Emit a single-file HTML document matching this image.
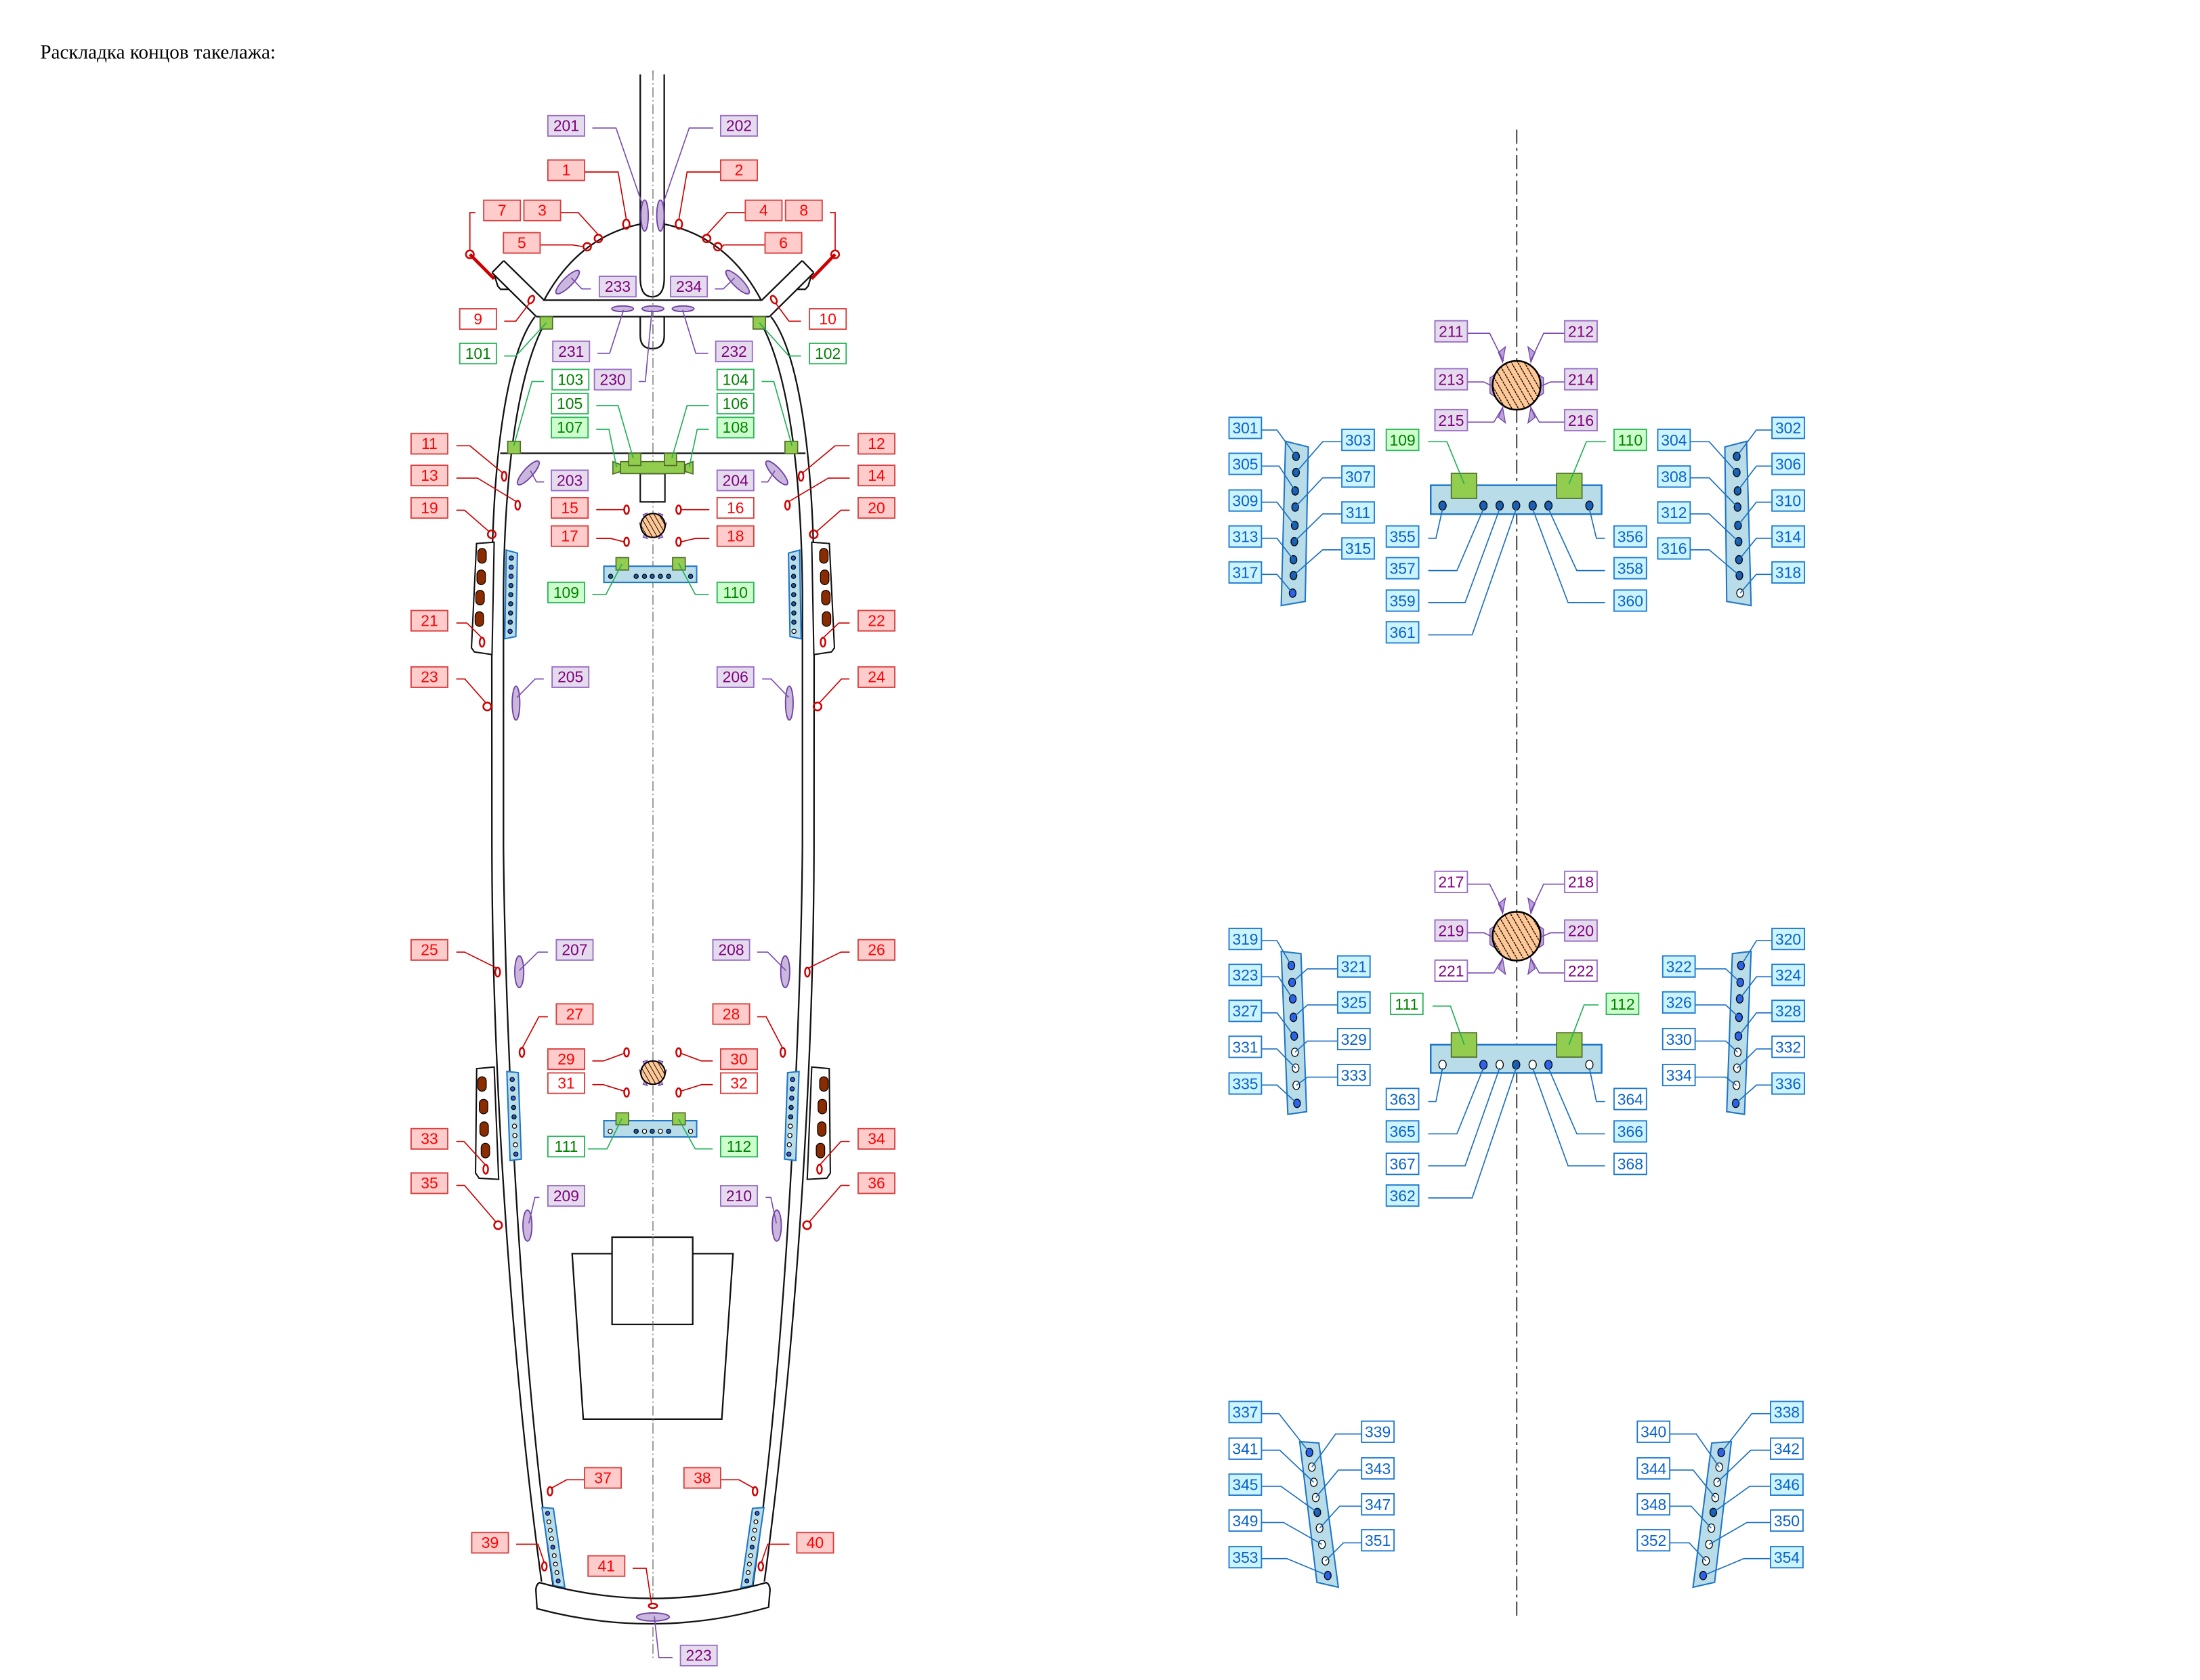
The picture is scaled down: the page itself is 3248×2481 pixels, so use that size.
<!DOCTYPE html>
<html><head><meta charset="utf-8"><style>
html,body{margin:0;padding:0;background:#fff}
svg{display:block}
text{font-family:"Liberation Sans",sans-serif;font-size:11px;text-anchor:middle}
g.L rect{width:26px;height:14.5px}
g.S rect{width:23px;height:15px}
.R rect{fill:#ffcccc;stroke:#d94040;stroke-width:.9}.R text{fill:#f00}
.Rw rect{fill:#fff;stroke:#d94040;stroke-width:.9}.Rw text{fill:#f00}
.P rect{fill:#e4dcec;stroke:#9a6dc8;stroke-width:.9}.P text{fill:#800080}
.Pw rect{fill:#fff;stroke:#9a6dc8;stroke-width:.9}.Pw text{fill:#800080}
.G rect{fill:#ccffcc;stroke:#2bb55a;stroke-width:.9}.G text{fill:#008000}
.Gw rect{fill:#fff;stroke:#2bb55a;stroke-width:.9}.Gw text{fill:#008000}
.B rect{fill:#ccf4ff;stroke:#1e7ad0;stroke-width:.9}.B text{fill:#0a62c8}
.Bw rect{fill:#fff;stroke:#1e7ad0;stroke-width:.9}.Bw text{fill:#0a62c8}
.lr polyline{fill:none;stroke:#cc0000;stroke-width:.8}
.lp polyline{fill:none;stroke:#7a4cb0;stroke-width:.8}
.lg polyline{fill:none;stroke:#1fb055;stroke-width:.8}
.lb polyline{fill:none;stroke:#1a6fc0;stroke-width:.8}
.h{fill:none;stroke:#111;stroke-width:1.1}
.ring{fill:none;stroke:#cc0000;stroke-width:1.2}
.pe{fill:#c9b8dc;stroke:#7040a8;stroke-width:.9}
.strip{fill:#b8dde8;stroke:#1f77c8;stroke-width:1}
.db{fill:#1a5fb4;stroke:#000;stroke-width:.6}
.lb2{fill:#2f63ee;stroke:#000;stroke-width:.6}
.wd{fill:#fff;stroke:#000;stroke-width:.6}
.gs{fill:#92cd50;stroke:#4e6b2a;stroke-width:.8}
.de{fill:#8b2c00;stroke:#000;stroke-width:.6}
.pm{fill:#b9a2d8;stroke:#7040a8;stroke-width:.6}
</style></head><body>
<svg width="3248" height="2481" viewBox="0 0 1560 1191.6" preserveAspectRatio="none" xmlns="http://www.w3.org/2000/svg">
<defs>
<pattern id="hat" width="3" height="3" patternUnits="userSpaceOnUse" patternTransform="rotate(-30)">
<rect width="3" height="3" fill="#ffc896"/><line x1="0" y1="0" x2="0" y2="3" stroke="#000" stroke-width="0.9"/></pattern>
<pattern id="hat2" width="4" height="4" patternUnits="userSpaceOnUse" patternTransform="rotate(-30)">
<rect width="4" height="4" fill="#ffc896"/><line x1="0" y1="0" x2="0" y2="4" stroke="#000" stroke-width="1.3" stroke-dasharray="1.5,0.6"/></pattern>
</defs>
<rect width="1560" height="1191.6" fill="#fff"/>
<text x="28.5" y="41.6" style="font-family:'Liberation Serif',serif;font-size:14px;text-anchor:start" textLength="167">Раскладка концов такелажа:</text>

<line x1="463" y1="50" x2="463" y2="1176" stroke="#666" stroke-width=".6" stroke-dasharray="7,2,1,2"/>

<g id="hullL">
<path class="h" d="M379.3,224.6 C360,250 349,320 348.7,420 L348.8,600 C349,760 362,960 384,1121.8"/>
<path class="h" d="M389,224.6 C370,255 358,320 357,420 L357,600 C358,720 368,960 392.2,1124.6"/>
<path class="h" d="M348.9,193.4 L380.4,224.6 M357.2,184.9 L385.8,212.9 M357.2,184.9 L348.9,193.4 M350.5,195 L353,203 L355,205.2 L361,205.2"/>
<polygon points="337.9,385.5 350.4,384.6 348.9,464.3 336.4,462.4 334.3,459.5" fill="#fff" stroke="#111" stroke-width="1"/>
<polygon points="338,758 350.4,756.8 353.6,836.5 339.7,835.7 337.2,832" fill="#fff" stroke="#111" stroke-width="1"/>
<rect class="de" x="338.8" y="389" width="6" height="10.5" rx="3"/>
<rect class="de" x="338.2" y="404.3" width="6" height="10.4" rx="3"/>
<rect class="de" x="337.4" y="418.7" width="6" height="10.4" rx="3"/>
<rect class="de" x="336.9" y="433.9" width="6" height="10.4" rx="3"/>
<rect class="de" x="338.8" y="763.7" width="6" height="10.3" rx="3"/>
<rect class="de" x="339.9" y="779.7" width="6" height="10.3" rx="3"/>
<rect class="de" x="340.3" y="795.7" width="6" height="10.3" rx="3"/>
<rect class="de" x="341.2" y="810.9" width="6" height="10.4" rx="3"/>
<polygon class="strip" points="359,390.2 366.9,392.3 365.8,451.5 357.9,453.1"/>
<polygon class="strip" points="359.4,760 367.5,760.8 369.7,822.1 361.7,823.2"/>
<polygon class="strip" points="384.3,1069.2 392.4,1069.9 400.5,1126 392.6,1124.7"/>
</g>
<use href="#hullL" transform="translate(926,0) scale(-1,1)"/>
<path d="M382.5,1122.5 Q463,1145 543.5,1122.5 Q546,1124 546,1128 L545,1140 Q463,1163 380.8,1141 L380,1128 Q380,1124 382.5,1122.5 Z" fill="#fff" stroke="#111" stroke-width="1.1"/>
<line x1="380.4" y1="224.6" x2="545.6" y2="224.6" stroke="#111" stroke-width="1.1"/>
<line x1="354.7" y1="321.5" x2="571.2" y2="321.5" stroke="#111" stroke-width="1.1"/>
<path d="M385.8,212.9 Q410,168 454,159 L471,159 Q516,168 539.7,212.9 Z" fill="#fff" stroke="#111" stroke-width="1.1"/>
<path d="M454,52.8 L454,197 Q454,210.5 462.5,210.5 Q471,210.5 471,197 L471,52.8" fill="#fff" stroke="#111" stroke-width="1.1"/>
<path d="M454,224.6 L454,238 Q454,247.3 462.5,247.3 Q471,247.3 471,238 L471,224.6" fill="none" stroke="#111" stroke-width="1.1"/>
<line x1="463" y1="50" x2="463" y2="250" stroke="#666" stroke-width=".6" stroke-dasharray="7,2,1,2"/>
<polygon points="405.7,889.2 519.8,889.2 511.8,1006.6 413.6,1006.6" fill="#fff" stroke="#111" stroke-width="1.1"/>
<rect x="434" y="877.5" width="57.2" height="61.9" fill="#fff" stroke="#111" stroke-width="1.1"/>
<line x1="463" y1="877" x2="463" y2="1010" stroke="#666" stroke-width=".6" stroke-dasharray="7,2,1,2"/>

<rect x="454" y="335.9" width="17.5" height="20.1" fill="#fff" stroke="#111" stroke-width="1"/>
<rect class="gs" x="440" y="327.4" width="45.4" height="8.5"/>
<rect class="gs" x="445.8" y="321.5" width="8.6" height="8.7"/>
<rect class="gs" x="471.1" y="321.5" width="8.6" height="8.7"/>
<polygon class="gs" points="434.6,327.4 440,329.5 440,334.5 434.6,336.2"/>
<polygon class="gs" points="491.4,327.4 486,329.5 486,334.5 491.4,336.2"/>
<rect class="gs" x="360" y="313" width="9" height="8.8"/>
<rect class="gs" x="556.6" y="313" width="9" height="8.8"/>
<rect class="gs" x="383" y="224.6" width="8.8" height="8.8"/>
<rect class="gs" x="534" y="224.6" width="8.8" height="8.8"/>

<g>
<polygon class="pm" points="456,365 459,364 457.5,368"/><polygon class="pm" points="470,365 467,364 468.5,368"/>
<polygon class="pm" points="453.5,371 454.5,375 455.5,373"/><polygon class="pm" points="472.5,371 471.5,375 470.5,373"/>
<polygon class="pm" points="456,381 459,382 457.5,378"/><polygon class="pm" points="470,381 467,382 468.5,378"/>
<ellipse cx="463" cy="372.7" rx="8.6" ry="8.5" fill="url(#hat)" stroke="#000" stroke-width="1"/>
<polygon class="pm" points="456,753 459,752 457.5,756"/><polygon class="pm" points="470,753 467,752 468.5,756"/>
<polygon class="pm" points="453.5,759 454.5,763 455.5,761"/><polygon class="pm" points="472.5,759 471.5,763 470.5,761"/>
<polygon class="pm" points="456,769 459,770 457.5,766"/><polygon class="pm" points="470,769 467,770 468.5,766"/>
<ellipse cx="463" cy="760.8" rx="8.6" ry="8.3" fill="url(#hat)" stroke="#000" stroke-width="1"/>
</g>
<rect x="428.2" y="401.6" width="65.8" height="11.5" fill="#b8dde8" stroke="#1f77c8" stroke-width="1"/>
<rect class="gs" x="436.8" y="395.5" width="9" height="8.8"/><rect class="gs" x="476.9" y="395.5" width="9" height="8.8"/>
<g class="db"><circle cx="433" cy="408.8" r="1.5"/><circle cx="451.1" cy="408.8" r="1.5"/><circle cx="457" cy="408.8" r="1.5"/><circle cx="462.5" cy="408.8" r="1.5"/><circle cx="468.3" cy="408.8" r="1.5"/><circle cx="474.1" cy="408.8" r="1.5"/><circle cx="489.7" cy="408.8" r="1.5"/></g>
<rect x="428.2" y="794.9" width="65.8" height="11.5" fill="#b8dde8" stroke="#1f77c8" stroke-width="1"/>
<rect class="gs" x="436.8" y="789.3" width="9" height="8.5"/><rect class="gs" x="476.9" y="789.3" width="9" height="8.5"/>
<circle class="wd" cx="432.7" cy="802.4" r="1.5"/><circle class="db" cx="451.1" cy="802.4" r="1.5"/><circle class="wd" cx="457" cy="802.4" r="1.5"/><circle class="db" cx="462.5" cy="802.4" r="1.5"/><circle class="wd" cx="468.3" cy="802.4" r="1.5"/><circle class="db" cx="474.1" cy="802.4" r="1.5"/><circle class="wd" cx="489.7" cy="802.4" r="1.5"/>

<g>
<circle class="lb2" cx="362.6" cy="395.8" r="1.5"/><circle class="lb2" cx="362.5" cy="402.3" r="1.5"/><circle class="lb2" cx="362.4" cy="408.8" r="1.5"/><circle class="db" cx="362.3" cy="415.3" r="1.5"/><circle class="db" cx="362.2" cy="421.8" r="1.5"/><circle class="db" cx="362.1" cy="428.3" r="1.5"/><circle class="db" cx="362" cy="434.8" r="1.5"/><circle class="db" cx="361.8" cy="441.3" r="1.5"/><circle class="lb2" cx="361.7" cy="447.8" r="1.5"/>
<circle class="lb2" cx="562.6" cy="395.8" r="1.5"/><circle class="db" cx="562.6" cy="402.3" r="1.5"/><circle class="db" cx="562.7" cy="408.8" r="1.5"/><circle class="db" cx="562.7" cy="415.3" r="1.5"/><circle class="db" cx="562.8" cy="421.8" r="1.5"/><circle class="db" cx="562.8" cy="428.3" r="1.5"/><circle class="db" cx="562.9" cy="434.8" r="1.5"/><circle class="db" cx="562.9" cy="441.3" r="1.5"/><circle class="wd" cx="563" cy="447.8" r="1.5"/>
<circle class="lb2" cx="363.2" cy="765.7" r="1.5"/><circle class="lb2" cx="363.5" cy="772.3" r="1.5"/><circle class="lb2" cx="363.9" cy="778.9" r="1.5"/><circle class="db" cx="364.2" cy="785.5" r="1.5"/><circle class="db" cx="364.5" cy="792.2" r="1.5"/><circle class="wd" cx="364.8" cy="798.8" r="1.5"/><circle class="wd" cx="365.1" cy="805.4" r="1.5"/><circle class="wd" cx="365.5" cy="812" r="1.5"/><circle class="lb2" cx="365.8" cy="818.6" r="1.5"/>
<circle class="lb2" cx="562" cy="765.7" r="1.5"/><circle class="lb2" cx="561.7" cy="772.3" r="1.5"/><circle class="lb2" cx="561.4" cy="778.9" r="1.5"/><circle class="db" cx="561" cy="785.5" r="1.5"/><circle class="db" cx="560.7" cy="792.2" r="1.5"/><circle class="wd" cx="560.4" cy="798.8" r="1.5"/><circle class="wd" cx="560.1" cy="805.4" r="1.5"/><circle class="wd" cx="559.7" cy="812" r="1.5"/><circle class="lb2" cx="559.4" cy="818.6" r="1.5"/>
<circle class="lb2" cx="388.3" cy="1073.4" r="1.4"/><circle class="wd" cx="389.2" cy="1079.4" r="1.4"/><circle class="wd" cx="390.2" cy="1085.4" r="1.4"/><circle class="wd" cx="391.1" cy="1091.4" r="1.4"/><circle class="lb2" cx="392" cy="1097.4" r="1.4"/><circle class="wd" cx="393" cy="1103.4" r="1.4"/><circle class="wd" cx="393.9" cy="1109.4" r="1.4"/><circle class="wd" cx="394.9" cy="1115.4" r="1.4"/><circle class="lb2" cx="395.8" cy="1121.4" r="1.4"/>
<circle class="lb2" cx="536.9" cy="1073.4" r="1.4"/><circle class="wd" cx="536" cy="1079.4" r="1.4"/><circle class="wd" cx="535.1" cy="1085.4" r="1.4"/><circle class="wd" cx="534.2" cy="1091.4" r="1.4"/><circle class="lb2" cx="533.3" cy="1097.4" r="1.4"/><circle class="wd" cx="532.3" cy="1103.4" r="1.4"/><circle class="wd" cx="531.4" cy="1109.4" r="1.4"/><circle class="wd" cx="530.5" cy="1115.4" r="1.4"/><circle class="lb2" cx="529.6" cy="1121.4" r="1.4"/>
</g>

<ellipse class="pe" cx="457.1" cy="152.9" rx="2.6" ry="11"/>
<ellipse class="pe" cx="468.3" cy="152.9" rx="2.6" ry="11"/>
<ellipse class="pe" cx="402.5" cy="200.1" rx="11.3" ry="3.3" transform="rotate(-45 402.5 200.1)"/>
<ellipse class="pe" cx="523" cy="200.1" rx="11.3" ry="3.3" transform="rotate(45 523 200.1)"/>
<ellipse class="pe" cx="441.5" cy="219" rx="7.7" ry="2"/>
<ellipse class="pe" cx="463" cy="219" rx="7.7" ry="2"/>
<ellipse class="pe" cx="484.4" cy="219" rx="7.7" ry="2"/>
<ellipse class="pe" cx="374.6" cy="335.4" rx="11" ry="3.3" transform="rotate(-48 374.6 335.4)"/>
<ellipse class="pe" cx="550.8" cy="335.4" rx="11" ry="3.3" transform="rotate(48 550.8 335.4)"/>
<ellipse class="pe" cx="365.9" cy="498.7" rx="2.7" ry="12"/>
<ellipse class="pe" cx="559.7" cy="498.7" rx="2.7" ry="12"/>
<ellipse class="pe" cx="368.2" cy="689.2" rx="3.2" ry="11.2"/>
<ellipse class="pe" cx="556.8" cy="689.2" rx="3.2" ry="11.2"/>
<ellipse class="pe" cx="374" cy="869.3" rx="3.2" ry="11"/>
<ellipse class="pe" cx="550.8" cy="869.3" rx="3.2" ry="11"/>
<ellipse class="pe" cx="463" cy="1146.9" rx="11.6" ry="2.9"/>

<line x1="333.2" y1="180.4" x2="350.4" y2="197.7" stroke="#cc0000" stroke-width="2.3"/>
<line x1="592.2" y1="180.4" x2="575.5" y2="197.7" stroke="#cc0000" stroke-width="2.3"/>
<g class="ring">
<circle cx="333.2" cy="180.4" r="2.8"/><circle cx="592.2" cy="180.4" r="2.8"/>
<circle cx="424.3" cy="169.2" r="2.7"/><circle cx="501.1" cy="169.2" r="2.7"/>
<circle cx="416.4" cy="175" r="2.7"/><circle cx="509" cy="175" r="2.7"/>
<ellipse cx="444.1" cy="159" rx="2.3" ry="3.3"/><ellipse cx="481.4" cy="159" rx="2.3" ry="3.3"/>
<ellipse cx="376.7" cy="212.5" rx="1.8" ry="3" transform="rotate(30 376.7 212.5)"/><ellipse cx="548.7" cy="212.5" rx="1.8" ry="3" transform="rotate(-30 548.7 212.5)"/>
<ellipse cx="357.5" cy="337.8" rx="1.7" ry="3.2"/><ellipse cx="568" cy="337.8" rx="1.7" ry="3.2"/>
<ellipse cx="367.1" cy="358.3" rx="1.7" ry="3.2"/><ellipse cx="558.4" cy="358.3" rx="1.7" ry="3.2"/>
<circle cx="348.7" cy="379" r="2.8"/><circle cx="577" cy="379" r="2.8"/>
<ellipse cx="444.3" cy="361.5" rx="1.7" ry="3"/><ellipse cx="481.2" cy="361.5" rx="1.7" ry="3"/>
<ellipse cx="444.3" cy="384.3" rx="1.7" ry="3"/><ellipse cx="481.2" cy="384.3" rx="1.7" ry="3"/>
<ellipse cx="341.8" cy="455.5" rx="1.7" ry="3.2"/><ellipse cx="583.6" cy="455.5" rx="1.7" ry="3.2"/>
<circle cx="345.5" cy="501.1" r="2.8"/><circle cx="579.7" cy="501.1" r="2.8"/>
<ellipse cx="352.9" cy="689.5" rx="1.7" ry="3.2"/><ellipse cx="572.5" cy="689.5" rx="1.7" ry="3.2"/>
<ellipse cx="370.1" cy="746.4" rx="1.7" ry="3.2"/><ellipse cx="555.1" cy="746.4" rx="1.7" ry="3.2"/>
<ellipse cx="444.3" cy="746.4" rx="1.7" ry="3"/><ellipse cx="481.2" cy="746.4" rx="1.7" ry="3"/>
<ellipse cx="444.3" cy="774.9" rx="1.7" ry="3"/><ellipse cx="481.2" cy="774.9" rx="1.7" ry="3"/>
<ellipse cx="344.4" cy="829.3" rx="1.7" ry="3.2"/><ellipse cx="581.1" cy="829.3" rx="1.7" ry="3.2"/>
<circle cx="353.2" cy="869" r="2.8"/><circle cx="572.3" cy="869" r="2.8"/>
<ellipse cx="390" cy="1057.7" rx="1.7" ry="3"/><ellipse cx="535.4" cy="1057.7" rx="1.7" ry="3"/>
<ellipse cx="386" cy="1111" rx="1.7" ry="3"/><ellipse cx="539.5" cy="1111" rx="1.7" ry="3"/>
<ellipse cx="463" cy="1139" rx="3" ry="1.6"/>
</g>

<g class="lr">
<polyline points="414.3,122 438.3,122 444.1,155.5"/><polyline points="511,122 487.2,122 481.4,155.5"/>
<polyline points="397.1,150.8 410,150.8 424.3,166.5"/><polyline points="528.3,150.8 515.5,150.8 501.1,166.5"/>
<polyline points="383,173.7 406.1,173.7 413.6,175"/><polyline points="542.5,173.7 513.3,173.7 511.8,175"/>
<polyline points="337.1,150.8 333.2,150.8 333.2,177.4"/><polyline points="588.4,150.8 592.2,150.8 592.2,177.4"/>
<polyline points="357.5,227.8 365.8,227.8 375.5,215"/><polyline points="568,227.8 559.4,227.8 550,215"/>
<polyline points="323.6,316.2 333.2,316.2 356.5,335.5"/><polyline points="602.5,316.2 592.2,316.2 569,335.5"/>
<polyline points="323.6,339.1 338.6,339.1 366.5,356"/><polyline points="602.5,339.1 587.3,339.1 559,356"/>
<polyline points="323.6,361.9 329.4,361.9 346.8,377"/><polyline points="602.5,361.9 596.3,361.9 579,377"/>
<polyline points="422.8,361.5 442.5,361.5"/><polyline points="503,361.5 483,361.5"/>
<polyline points="422.8,381.9 433,381.9 442.5,384.3"/><polyline points="503,381.9 493,381.9 483,384.3"/>
<polyline points="323.6,441.9 331.1,441.9 341.8,452.5"/><polyline points="602.5,441.9 594.8,441.9 583.6,452.5"/>
<polyline points="323.5,481.6 329.6,481.6 344.5,498.5"/><polyline points="602.3,481.6 596.7,481.6 581,498.5"/>
<polyline points="323.6,675.3 329.4,675.3 352,686.5"/><polyline points="602.5,675.3 596.3,675.3 573.5,686.5"/>
<polyline points="388.5,721.2 382.1,721.2 370.5,743"/><polyline points="536.9,721.2 543.3,721.2 554.7,743"/>
<polyline points="420,752.5 428,752.5 443,747"/><polyline points="505.4,752.5 497.3,752.5 482.5,747"/>
<polyline points="420,769.3 427.6,769.3 443,774"/><polyline points="505.4,769.3 497.5,769.3 482.5,774"/>
<polyline points="323.6,809.6 329,809.6 344,826"/><polyline points="602.5,809.6 596.3,809.6 581.5,826"/>
<polyline points="323.6,840.8 329.4,840.8 351.5,866.5"/><polyline points="602.5,840.8 596.3,840.8 574,866.5"/>
<polyline points="414,1049.6 401.8,1049.6 391,1055.5"/><polyline points="511.5,1049.6 524,1049.6 534.5,1055.5"/>
<polyline points="366,1095.3 381.5,1095.3 385.8,1108"/><polyline points="559.8,1095.3 544.4,1095.3 540,1108"/>
<polyline points="448.6,1112.4 458.2,1112.4 462,1137.5"/>
</g>
<g class="lp">
<polyline points="420,90.8 436.8,90.8 455.5,145"/><polyline points="505.8,90.8 488.7,90.8 470,145"/>
<polyline points="419,204.9 412.6,204.9 405,197"/><polyline points="506.9,204.9 512.9,204.9 521,197"/>
<polyline points="423.7,250.6 432.3,250.6 442.1,220"/><polyline points="502.2,250.6 493.4,250.6 484,220"/>
<polyline points="452.9,270.6 457.6,270.6 462.3,220"/>
<polyline points="385.8,341.8 380.4,341.8 376.1,333.8"/><polyline points="539.7,341.8 544.4,341.8 549.5,333.8"/>
<polyline points="385.6,481.6 379.5,481.6 366.6,494.7"/><polyline points="540.4,481.6 546.8,481.6 559.3,494.7"/>
<polyline points="388.5,675.3 381.5,675.3 368.2,688.4"/><polyline points="536.9,675.3 544.4,675.3 557.3,688.4"/>
<polyline points="382.5,849.3 379.3,849.3 375,867.7"/><polyline points="542.9,849.3 546.6,849.3 550.5,867.7"/>
<polyline points="476.9,1175.7 467.2,1175.7 464,1146.5"/>
</g>
<g class="lg">
<polyline points="357.5,252.5 365.8,252.5 387.3,229"/><polyline points="568,252.5 559.4,252.5 538.5,229"/>
<polyline points="385.8,270.6 377.2,270.6 364.3,316.2"/><polyline points="540.1,270.6 548.7,270.6 561.6,316.2"/>
<polyline points="422.8,287.7 438.3,287.7 449,325"/><polyline points="502.6,287.7 487.2,287.7 476.4,325"/>
<polyline points="422.8,304.5 431.8,304.5 437.2,331.4"/><polyline points="502.6,304.5 494.4,304.5 488.7,331.4"/>
<polyline points="420,421.6 429.7,421.6 441,400"/><polyline points="502.6,421.6 493,421.6 481.2,399.5"/>
<polyline points="416.8,814.9 430.4,814.9 441,793.3"/><polyline points="505.4,814.9 493,814.9 481.2,793.8"/>
</g>

<g class="L R" transform="translate(388.5,113.5)"><rect/><text x="13" y="11">1</text></g>
<g class="L R" transform="translate(511,113.5)"><rect/><text x="13" y="11">2</text></g>
<g class="L R" transform="translate(343,142)"><rect/><text x="13" y="11">7</text></g>
<g class="L R" transform="translate(371.5,142)"><rect/><text x="13" y="11">3</text></g>
<g class="L R" transform="translate(528.5,142)"><rect/><text x="13" y="11">4</text></g>
<g class="L R" transform="translate(557,142)"><rect/><text x="13" y="11">8</text></g>
<g class="L R" transform="translate(357,165)"><rect/><text x="13" y="11">5</text></g>
<g class="L R" transform="translate(542.5,165)"><rect/><text x="13" y="11">6</text></g>
<g class="L Rw" transform="translate(326,219)"><rect/><text x="13" y="11">9</text></g>
<g class="L Rw" transform="translate(574,219)"><rect/><text x="13" y="11">10</text></g>
<g class="L R" transform="translate(291.5,307.5)"><rect/><text x="13" y="11">11</text></g>
<g class="L R" transform="translate(608.5,307.5)"><rect/><text x="13" y="11">12</text></g>
<g class="L R" transform="translate(291.5,330)"><rect/><text x="13" y="11">13</text></g>
<g class="L R" transform="translate(608.5,330)"><rect/><text x="13" y="11">14</text></g>
<g class="L R" transform="translate(291.5,353)"><rect/><text x="13" y="11">19</text></g>
<g class="L R" transform="translate(608.5,353)"><rect/><text x="13" y="11">20</text></g>
<g class="L R" transform="translate(391,353)"><rect/><text x="13" y="11">15</text></g>
<g class="L Rw" transform="translate(508.5,353)"><rect/><text x="13" y="11">16</text></g>
<g class="L R" transform="translate(391,373)"><rect/><text x="13" y="11">17</text></g>
<g class="L R" transform="translate(508.5,373)"><rect/><text x="13" y="11">18</text></g>
<g class="L R" transform="translate(291.5,433)"><rect/><text x="13" y="11">21</text></g>
<g class="L R" transform="translate(608.5,433)"><rect/><text x="13" y="11">22</text></g>
<g class="L R" transform="translate(291.5,473)"><rect/><text x="13" y="11">23</text></g>
<g class="L R" transform="translate(608.5,473)"><rect/><text x="13" y="11">24</text></g>
<g class="L R" transform="translate(291.5,666.5)"><rect/><text x="13" y="11">25</text></g>
<g class="L R" transform="translate(608.5,666.5)"><rect/><text x="13" y="11">26</text></g>
<g class="L R" transform="translate(394.5,712)"><rect/><text x="13" y="11">27</text></g>
<g class="L R" transform="translate(505.5,712)"><rect/><text x="13" y="11">28</text></g>
<g class="L R" transform="translate(388.5,744)"><rect/><text x="13" y="11">29</text></g>
<g class="L R" transform="translate(511,744)"><rect/><text x="13" y="11">30</text></g>
<g class="L Rw" transform="translate(388.5,761)"><rect/><text x="13" y="11">31</text></g>
<g class="L Rw" transform="translate(511,761)"><rect/><text x="13" y="11">32</text></g>
<g class="L R" transform="translate(291.5,800.5)"><rect/><text x="13" y="11">33</text></g>
<g class="L R" transform="translate(608.5,800.5)"><rect/><text x="13" y="11">34</text></g>
<g class="L R" transform="translate(291.5,832)"><rect/><text x="13" y="11">35</text></g>
<g class="L R" transform="translate(608.5,832)"><rect/><text x="13" y="11">36</text></g>
<g class="L R" transform="translate(414.5,1041)"><rect/><text x="13" y="11">37</text></g>
<g class="L R" transform="translate(485,1041)"><rect/><text x="13" y="11">38</text></g>
<g class="L R" transform="translate(334.5,1087)"><rect/><text x="13" y="11">39</text></g>
<g class="L R" transform="translate(565,1087)"><rect/><text x="13" y="11">40</text></g>
<g class="L R" transform="translate(417,1103.5)"><rect/><text x="13" y="11">41</text></g>

<g class="L P" transform="translate(388.5,82)"><rect/><text x="13" y="11">201</text></g>
<g class="L P" transform="translate(511,82)"><rect/><text x="13" y="11">202</text></g>
<g class="L P" transform="translate(425,196)"><rect/><text x="13" y="11">233</text></g>
<g class="L P" transform="translate(475.5,196)"><rect/><text x="13" y="11">234</text></g>
<g class="L P" transform="translate(392,242)"><rect/><text x="13" y="11">231</text></g>
<g class="L P" transform="translate(507.5,242)"><rect/><text x="13" y="11">232</text></g>
<g class="L P" transform="translate(421.5,262)"><rect/><text x="13" y="11">230</text></g>
<g class="L P" transform="translate(391,333.5)"><rect/><text x="13" y="11">203</text></g>
<g class="L P" transform="translate(508.5,333.5)"><rect/><text x="13" y="11">204</text></g>
<g class="L P" transform="translate(391.5,473)"><rect/><text x="13" y="11">205</text></g>
<g class="L P" transform="translate(508.5,473)"><rect/><text x="13" y="11">206</text></g>
<g class="L P" transform="translate(394.5,666.5)"><rect/><text x="13" y="11">207</text></g>
<g class="L P" transform="translate(505.5,666.5)"><rect/><text x="13" y="11">208</text></g>
<g class="L P" transform="translate(388.5,841)"><rect/><text x="13" y="11">209</text></g>
<g class="L P" transform="translate(511,841)"><rect/><text x="13" y="11">210</text></g>
<g class="L P" transform="translate(482.5,1167)"><rect/><text x="13" y="11">223</text></g>

<g class="L Gw" transform="translate(326,243.5)"><rect/><text x="13" y="11">101</text></g>
<g class="L Gw" transform="translate(574,243.5)"><rect/><text x="13" y="11">102</text></g>
<g class="L Gw" transform="translate(391.5,262)"><rect/><text x="13" y="11">103</text></g>
<g class="L Gw" transform="translate(508.5,262)"><rect/><text x="13" y="11">104</text></g>
<g class="L Gw" transform="translate(391,279)"><rect/><text x="13" y="11">105</text></g>
<g class="L Gw" transform="translate(508.5,279)"><rect/><text x="13" y="11">106</text></g>
<g class="L G" transform="translate(391,296)"><rect/><text x="13" y="11">107</text></g>
<g class="L G" transform="translate(508.5,296)"><rect/><text x="13" y="11">108</text></g>
<g class="L G" transform="translate(388.5,413)"><rect/><text x="13" y="11">109</text></g>
<g class="L G" transform="translate(508.5,413)"><rect/><text x="13" y="11">110</text></g>
<g class="L Gw" transform="translate(388.5,806)"><rect/><text x="13" y="11">111</text></g>
<g class="L G" transform="translate(511,806)"><rect/><text x="13" y="11">112</text></g>

<!-- ================= RIGHT PANEL ================= -->
<g transform="translate(-5.5,0)">
<line x1="1081" y1="92" x2="1081" y2="1148" stroke="#333" stroke-width=".9" stroke-dasharray="10,3,2,3"/>
<g>
<polygon class="pm" points="1068,250 1073,246 1071,257"/><polygon class="pm" points="1094,250 1089,246 1091,257"/>
<polygon class="pm" points="1062,268 1065,266 1065,281 1062,279"/><polygon class="pm" points="1100,268 1097,266 1097,281 1100,279"/>
<polygon class="pm" points="1068,296 1073,300 1071,289"/><polygon class="pm" points="1094,296 1089,300 1091,289"/>
<ellipse cx="1080.9" cy="273.3" rx="17" ry="17.3" fill="url(#hat2)" stroke="#000" stroke-width="1.2"/>
<polygon class="pm" points="1068,641 1073,637 1071,648"/><polygon class="pm" points="1094,641 1089,637 1091,648"/>
<polygon class="pm" points="1062,659 1065,657 1065,672 1062,670"/><polygon class="pm" points="1100,659 1097,657 1097,672 1100,670"/>
<polygon class="pm" points="1068,687 1073,691 1071,680"/><polygon class="pm" points="1094,687 1089,691 1091,680"/>
<ellipse cx="1080.9" cy="664" rx="17" ry="17.3" fill="url(#hat2)" stroke="#000" stroke-width="1.2"/>
</g>
<rect x="1020" y="344.2" width="121.2" height="20.5" fill="#b8dde8" stroke="#1f77c8" stroke-width="1.2"/>
<rect class="gs" x="1034.6" y="335.7" width="18" height="17.8"/><rect class="gs" x="1109.3" y="335.7" width="18" height="17.8"/>
<g class="db"><ellipse cx="1028.4" cy="358.6" rx="2.6" ry="3.2"/><ellipse cx="1057.4" cy="358.6" rx="2.6" ry="3.2"/><ellipse cx="1068.9" cy="358.6" rx="2.6" ry="3.2"/><ellipse cx="1080.6" cy="358.6" rx="2.6" ry="3.2"/><ellipse cx="1092.3" cy="358.6" rx="2.6" ry="3.2"/><ellipse cx="1103.5" cy="358.6" rx="2.6" ry="3.2"/><ellipse cx="1132.5" cy="358.6" rx="2.6" ry="3.2"/></g>
<rect x="1020" y="741" width="121.2" height="20" fill="#b8dde8" stroke="#1f77c8" stroke-width="1.2"/>
<rect class="gs" x="1034.6" y="732.5" width="18" height="17.3"/><rect class="gs" x="1109.3" y="732.5" width="18" height="17.3"/>
<ellipse class="wd" cx="1028.4" cy="755.2" rx="2.6" ry="3.2"/><ellipse class="lb2" cx="1057.4" cy="755.2" rx="2.6" ry="3.2"/><ellipse class="wd" cx="1068.9" cy="755.2" rx="2.6" ry="3.2"/><ellipse class="db" cx="1080.6" cy="755.2" rx="2.6" ry="3.2"/><ellipse class="wd" cx="1092.3" cy="755.2" rx="2.6" ry="3.2"/><ellipse class="lb2" cx="1103.5" cy="755.2" rx="2.6" ry="3.2"/><ellipse class="wd" cx="1132.5" cy="755.2" rx="2.6" ry="3.2"/>

<polygon class="strip" points="917.1,313 933.2,317 931,426.6 914,429.5"/>
<polygon class="strip" points="1228.6,317 1244,313 1247.2,429.5 1229.9,426.6"/>
<polygon class="strip" points="914,674.8 928,676.4 932,788.5 918.7,790.4"/>
<polygon class="strip" points="1233.9,676.4 1247.2,674.8 1242.5,790.4 1229.9,788.5"/>
<polygon class="strip" points="927.1,1022.5 940.7,1023.5 954.5,1125.8 939.3,1122.3"/>
<polygon class="strip" points="1219.3,1023.5 1233.2,1022.5 1221.3,1122.3 1206,1125.8"/>
<g>
<ellipse class="db" cx="924.5" cy="323.7" rx="2.4" ry="3"/><ellipse class="db" cx="924.5" cy="335.1" rx="2.4" ry="3"/><ellipse class="db" cx="923.9" cy="348.2" rx="2.4" ry="3"/><ellipse class="db" cx="923.9" cy="359.7" rx="2.4" ry="3"/><ellipse class="db" cx="923.6" cy="372.7" rx="2.4" ry="3"/><ellipse class="db" cx="923.3" cy="384.2" rx="2.4" ry="3"/><ellipse class="db" cx="922.7" cy="397" rx="2.4" ry="3"/><ellipse class="db" cx="922.7" cy="408.2" rx="2.4" ry="3"/><ellipse class="lb2" cx="922.1" cy="420.7" rx="2.4" ry="3"/>
<ellipse class="db" cx="1237" cy="323.7" rx="2.4" ry="3"/><ellipse class="db" cx="1237" cy="335.1" rx="2.4" ry="3"/><ellipse class="db" cx="1237.6" cy="348.2" rx="2.4" ry="3"/><ellipse class="db" cx="1237.6" cy="359.7" rx="2.4" ry="3"/><ellipse class="db" cx="1237.9" cy="372.7" rx="2.4" ry="3"/><ellipse class="db" cx="1238.3" cy="384.2" rx="2.4" ry="3"/><ellipse class="db" cx="1238.6" cy="397" rx="2.4" ry="3"/><ellipse class="db" cx="1238.9" cy="408.2" rx="2.4" ry="3"/><ellipse class="wd" cx="1239.4" cy="420.7" rx="2.4" ry="3"/>
<ellipse class="lb2" cx="921.2" cy="684.8" rx="2.4" ry="3"/><ellipse class="lb2" cx="921.7" cy="696.8" rx="2.4" ry="3"/><ellipse class="lb2" cx="922.2" cy="708.5" rx="2.4" ry="3"/><ellipse class="lb2" cx="922.7" cy="721.6" rx="2.4" ry="3"/><ellipse class="lb2" cx="923.2" cy="734.9" rx="2.4" ry="3"/><ellipse class="wd" cx="923.7" cy="746.4" rx="2.4" ry="3"/><ellipse class="wd" cx="924.2" cy="757.6" rx="2.4" ry="3"/><ellipse class="wd" cx="924.7" cy="769.8" rx="2.4" ry="3"/><ellipse class="lb2" cx="925.2" cy="782.6" rx="2.4" ry="3"/>
<ellipse class="lb2" cx="1240" cy="684.8" rx="2.4" ry="3"/><ellipse class="lb2" cx="1239.5" cy="696.8" rx="2.4" ry="3"/><ellipse class="lb2" cx="1239.1" cy="708.5" rx="2.4" ry="3"/><ellipse class="lb2" cx="1238.6" cy="721.6" rx="2.4" ry="3"/><ellipse class="lb2" cx="1238.2" cy="734.9" rx="2.4" ry="3"/><ellipse class="wd" cx="1237.7" cy="746.4" rx="2.4" ry="3"/><ellipse class="wd" cx="1237.2" cy="757.6" rx="2.4" ry="3"/><ellipse class="wd" cx="1236.8" cy="769.8" rx="2.4" ry="3"/><ellipse class="lb2" cx="1236.3" cy="782.6" rx="2.4" ry="3"/>
<ellipse class="lb2" cx="934" cy="1030.2" rx="2.4" ry="3"/><ellipse class="wd" cx="935.7" cy="1040.6" rx="2.4" ry="3"/><ellipse class="wd" cx="937.1" cy="1051.4" rx="2.4" ry="3"/><ellipse class="wd" cx="938.5" cy="1062.2" rx="2.4" ry="3"/><ellipse class="db" cx="939.6" cy="1072.7" rx="2.4" ry="3"/><ellipse class="wd" cx="941.2" cy="1083.9" rx="2.4" ry="3"/><ellipse class="wd" cx="942.9" cy="1095.4" rx="2.4" ry="3"/><ellipse class="wd" cx="945.4" cy="1107.1" rx="2.4" ry="3"/><ellipse class="lb2" cx="947" cy="1117.5" rx="2.4" ry="3"/>
<ellipse class="lb2" cx="1226" cy="1030.2" rx="2.4" ry="3"/><ellipse class="wd" cx="1224.6" cy="1040.6" rx="2.4" ry="3"/><ellipse class="wd" cx="1223.2" cy="1051.4" rx="2.4" ry="3"/><ellipse class="wd" cx="1221.8" cy="1062.2" rx="2.4" ry="3"/><ellipse class="db" cx="1220.4" cy="1072.7" rx="2.4" ry="3"/><ellipse class="wd" cx="1219" cy="1083.9" rx="2.4" ry="3"/><ellipse class="wd" cx="1217.4" cy="1095.4" rx="2.4" ry="3"/><ellipse class="wd" cx="1215.2" cy="1107.1" rx="2.4" ry="3"/><ellipse class="lb2" cx="1213.2" cy="1117.5" rx="2.4" ry="3"/>
</g>

<g class="lp">
<polyline points="1046,236.4 1061.8,236.4 1071.6,256.1"/><polyline points="1115.2,236.4 1100.1,236.4 1090.8,256.1"/>
<polyline points="1046,270.9 1057.7,270.9 1063,273.5"/><polyline points="1115.2,270.9 1105,270.9 1099,273.5"/>
<polyline points="1046,299.4 1064.8,299.4 1071.6,288.1"/><polyline points="1115.2,299.4 1097,299.4 1090.5,288.1"/>
<polyline points="1046,627.1 1061.8,627.1 1071.6,646.8"/><polyline points="1115.2,627.1 1100.1,627.1 1090.8,646.8"/>
<polyline points="1046,661.6 1057.7,661.6 1063,664.2"/><polyline points="1115.2,661.6 1105,661.6 1099,664.2"/>
<polyline points="1046,690.1 1064.8,690.1 1071.6,678.8"/><polyline points="1115.2,690.1 1097,690.1 1090.5,678.8"/>
</g>
<g class="lg">
<polyline points="1018.2,313.3 1031.5,313.3 1043.8,343.4"/><polyline points="1144.3,313.3 1130.4,313.3 1118,343.4"/>
<polyline points="1021.3,713.6 1034,713.6 1043.8,741"/><polyline points="1139,712.8 1128.8,712.8 1118,741"/>
</g>
<g class="lb">
<polyline points="1018.2,381.8 1023.7,381.8 1028.4,361"/><polyline points="1018.2,404.7 1038.6,404.7 1057.4,361"/>
<polyline points="1018.2,427.4 1044.4,427.4 1068.9,361"/><polyline points="1018.2,450.3 1049.4,450.3 1080.6,361"/>
<polyline points="1143.6,381.8 1137.5,381.8 1132.5,361"/><polyline points="1143.6,404.7 1123.6,404.7 1103.5,361"/>
<polyline points="1143.6,427.4 1117.4,427.4 1092.3,361"/>
<polyline points="1018.2,781.3 1023.7,781.3 1028.4,757.5"/><polyline points="1018.2,804.2 1038.6,804.2 1057.4,757.5"/>
<polyline points="1018.2,826.9 1044.4,826.9 1068.9,757.5"/><polyline points="1018.2,849.7 1049.4,849.7 1080.6,757.5"/>
<polyline points="1143.6,781.3 1137.5,781.3 1132.5,757.5"/><polyline points="1143.6,804.2 1123.6,804.2 1103.5,757.5"/>
<polyline points="1143.6,826.9 1117.4,826.9 1092.3,757.5"/>
<polyline points="900,305 911,305 924.5,323.7"/><polyline points="900,330.6 912.5,330.6 923.9,348.2"/>
<polyline points="900,356.2 911,356.2 923.6,372.7"/><polyline points="900,381.8 911,381.8 922.7,397"/>
<polyline points="900,407.4 911,407.4 922.1,420.7"/>
<polyline points="957,313.3 943.4,313.3 924.5,335.1"/><polyline points="957,338.9 943.4,338.9 923.9,359.7"/>
<polyline points="957,364.5 943.4,364.5 923.3,384.2"/><polyline points="957,390 943.4,390 922.7,408.2"/>
<polyline points="1262,305 1250.9,305 1237,323.7"/><polyline points="1262,330.6 1250.9,330.6 1237.6,348.2"/>
<polyline points="1262,356.2 1250.9,356.2 1237.9,372.7"/><polyline points="1262,381.8 1250.9,381.8 1238.6,397"/>
<polyline points="1262,407.4 1250.9,407.4 1239.4,420.7"/>
<polyline points="1204,313.3 1217.5,313.3 1237,335.1"/><polyline points="1204,338.9 1217.5,338.9 1237.6,359.7"/>
<polyline points="1204,364.5 1217.5,364.5 1238.3,384.2"/><polyline points="1204,390 1217.5,390 1238.9,408.2"/>
<polyline points="900,667.2 911,667.2 921.2,684.8"/><polyline points="900,692.8 912,692.8 922.2,708.5"/>
<polyline points="900,718.4 911,718.4 923.2,734.9"/><polyline points="900,744 911,744 924.2,757.6"/>
<polyline points="900,769.6 911,769.6 925.2,782.6"/>
<polyline points="954,687.2 932.6,687.2 921.7,696.8"/><polyline points="954,712.8 932.6,712.8 922.7,721.6"/>
<polyline points="954,738.4 932.6,738.4 923.7,746.4"/><polyline points="954,764 932.6,764 924.7,769.8"/>
<polyline points="1262,667.2 1251,667.2 1240,684.8"/><polyline points="1262,692.8 1251,692.8 1239.1,708.5"/>
<polyline points="1262,718.4 1251,718.4 1238.2,734.9"/><polyline points="1262,744 1251,744 1237.2,757.6"/>
<polyline points="1262,769.6 1251,769.6 1236.3,782.6"/>
<polyline points="1207.5,687.2 1229.2,687.2 1239.5,696.8"/><polyline points="1207.5,712.8 1229.2,712.8 1238.6,721.6"/>
<polyline points="1207.5,738.4 1229.2,738.4 1237.7,746.4"/><polyline points="1207.5,764 1229.2,764 1236.8,769.8"/>
<polyline points="900,1002.7 912.4,1002.7 934,1030.2"/><polyline points="900,1028.6 913,1028.6 937.1,1051.4"/>
<polyline points="900,1054.2 913.8,1054.2 939.6,1072.7"/><polyline points="900,1079.9 915.7,1079.9 942.9,1095.4"/>
<polyline points="900,1105.5 918,1105.5 947,1117.5"/>
<polyline points="971,1017.1 952.6,1017.1 935.7,1040.6"/><polyline points="971,1042.7 954.5,1042.7 938.5,1062.2"/>
<polyline points="971,1068.3 955.4,1068.3 941.2,1083.9"/><polyline points="971,1094.3 958.1,1094.3 945.4,1107.1"/>
<polyline points="1261,1002.7 1247.6,1002.7 1226,1030.2"/><polyline points="1261,1028.6 1247,1028.6 1223.2,1051.4"/>
<polyline points="1261,1054.2 1246.2,1054.2 1220.4,1072.7"/><polyline points="1261,1079.9 1244.2,1079.9 1217.4,1095.4"/>
<polyline points="1261,1105.5 1242,1105.5 1213.2,1117.5"/>
<polyline points="1189.5,1017.1 1208.3,1017.1 1224.6,1040.6"/><polyline points="1189.5,1042.7 1206.1,1042.7 1221.8,1062.2"/>
<polyline points="1189.5,1068.3 1204.7,1068.3 1219,1083.9"/><polyline points="1189.5,1094.3 1203.3,1094.3 1215.2,1107.1"/>
</g>

<g class="S P" transform="translate(1023,227.5)"><rect/><text x="11.5" y="11.5">211</text></g>
<g class="S P" transform="translate(1115,227.5)"><rect/><text x="11.5" y="11.5">212</text></g>
<g class="S P" transform="translate(1023,261.5)"><rect/><text x="11.5" y="11.5">213</text></g>
<g class="S P" transform="translate(1115,261.5)"><rect/><text x="11.5" y="11.5">214</text></g>
<g class="S P" transform="translate(1023,290.5)"><rect/><text x="11.5" y="11.5">215</text></g>
<g class="S P" transform="translate(1115,290.5)"><rect/><text x="11.5" y="11.5">216</text></g>
<g class="S Pw" transform="translate(1023,618)"><rect/><text x="11.5" y="11.5">217</text></g>
<g class="S Pw" transform="translate(1115,618)"><rect/><text x="11.5" y="11.5">218</text></g>
<g class="S P" transform="translate(1023,652.5)"><rect/><text x="11.5" y="11.5">219</text></g>
<g class="S P" transform="translate(1115,652.5)"><rect/><text x="11.5" y="11.5">220</text></g>
<g class="S Pw" transform="translate(1023,681)"><rect/><text x="11.5" y="11.5">221</text></g>
<g class="S Pw" transform="translate(1115,681)"><rect/><text x="11.5" y="11.5">222</text></g>
<g class="S G" transform="translate(988.5,304.5)"><rect/><text x="11.5" y="11.5">109</text></g>
<g class="S G" transform="translate(1150,304.5)"><rect/><text x="11.5" y="11.5">110</text></g>
<g class="S Gw" transform="translate(991.5,704.5)"><rect/><text x="11.5" y="11.5">111</text></g>
<g class="S G" transform="translate(1144.5,704.5)"><rect/><text x="11.5" y="11.5">112</text></g>
<g class="S B" transform="translate(988.5,373)"><rect/><text x="11.5" y="11.5">355</text></g>
<g class="S B" transform="translate(988.5,395.5)"><rect/><text x="11.5" y="11.5">357</text></g>
<g class="S B" transform="translate(988.5,418.5)"><rect/><text x="11.5" y="11.5">359</text></g>
<g class="S B" transform="translate(988.5,441)"><rect/><text x="11.5" y="11.5">361</text></g>
<g class="S B" transform="translate(1150,373)"><rect/><text x="11.5" y="11.5">356</text></g>
<g class="S B" transform="translate(1150,395.5)"><rect/><text x="11.5" y="11.5">358</text></g>
<g class="S B" transform="translate(1150,418.5)"><rect/><text x="11.5" y="11.5">360</text></g>
<g class="S Bw" transform="translate(988.5,772)"><rect/><text x="11.5" y="11.5">363</text></g>
<g class="S B" transform="translate(988.5,795)"><rect/><text x="11.5" y="11.5">365</text></g>
<g class="S Bw" transform="translate(988.5,818)"><rect/><text x="11.5" y="11.5">367</text></g>
<g class="S B" transform="translate(988.5,840.5)"><rect/><text x="11.5" y="11.5">362</text></g>
<g class="S Bw" transform="translate(1150,772)"><rect/><text x="11.5" y="11.5">364</text></g>
<g class="S B" transform="translate(1150,795)"><rect/><text x="11.5" y="11.5">366</text></g>
<g class="S Bw" transform="translate(1150,818)"><rect/><text x="11.5" y="11.5">368</text></g>

<g class="S B" transform="translate(877,296)"><rect/><text x="11.5" y="11.5">301</text></g>
<g class="S B" transform="translate(877,321.5)"><rect/><text x="11.5" y="11.5">305</text></g>
<g class="S B" transform="translate(877,347.5)"><rect/><text x="11.5" y="11.5">309</text></g>
<g class="S B" transform="translate(877,373)"><rect/><text x="11.5" y="11.5">313</text></g>
<g class="S B" transform="translate(877,398.5)"><rect/><text x="11.5" y="11.5">317</text></g>
<g class="S B" transform="translate(957,304.5)"><rect/><text x="11.5" y="11.5">303</text></g>
<g class="S B" transform="translate(957,330.5)"><rect/><text x="11.5" y="11.5">307</text></g>
<g class="S B" transform="translate(957,356)"><rect/><text x="11.5" y="11.5">311</text></g>
<g class="S B" transform="translate(957,381.5)"><rect/><text x="11.5" y="11.5">315</text></g>
<g class="S B" transform="translate(1262,296)"><rect/><text x="11.5" y="11.5">302</text></g>
<g class="S B" transform="translate(1262,321.5)"><rect/><text x="11.5" y="11.5">306</text></g>
<g class="S B" transform="translate(1262,347.5)"><rect/><text x="11.5" y="11.5">310</text></g>
<g class="S B" transform="translate(1262,373)"><rect/><text x="11.5" y="11.5">314</text></g>
<g class="S B" transform="translate(1262,398.5)"><rect/><text x="11.5" y="11.5">318</text></g>
<g class="S B" transform="translate(1181,304.5)"><rect/><text x="11.5" y="11.5">304</text></g>
<g class="S B" transform="translate(1181,330.5)"><rect/><text x="11.5" y="11.5">308</text></g>
<g class="S B" transform="translate(1181,356)"><rect/><text x="11.5" y="11.5">312</text></g>
<g class="S B" transform="translate(1181,381.5)"><rect/><text x="11.5" y="11.5">316</text></g>

<g class="S B" transform="translate(877,658.5)"><rect/><text x="11.5" y="11.5">319</text></g>
<g class="S B" transform="translate(877,684)"><rect/><text x="11.5" y="11.5">323</text></g>
<g class="S B" transform="translate(877,709.5)"><rect/><text x="11.5" y="11.5">327</text></g>
<g class="S Bw" transform="translate(877,735)"><rect/><text x="11.5" y="11.5">331</text></g>
<g class="S B" transform="translate(877,761)"><rect/><text x="11.5" y="11.5">335</text></g>
<g class="S B" transform="translate(954,678)"><rect/><text x="11.5" y="11.5">321</text></g>
<g class="S B" transform="translate(954,703.5)"><rect/><text x="11.5" y="11.5">325</text></g>
<g class="S Bw" transform="translate(954,729.5)"><rect/><text x="11.5" y="11.5">329</text></g>
<g class="S Bw" transform="translate(954,755)"><rect/><text x="11.5" y="11.5">333</text></g>
<g class="S B" transform="translate(1262,658.5)"><rect/><text x="11.5" y="11.5">320</text></g>
<g class="S B" transform="translate(1262,684)"><rect/><text x="11.5" y="11.5">324</text></g>
<g class="S B" transform="translate(1262,709.5)"><rect/><text x="11.5" y="11.5">328</text></g>
<g class="S Bw" transform="translate(1262,735)"><rect/><text x="11.5" y="11.5">332</text></g>
<g class="S B" transform="translate(1262,761)"><rect/><text x="11.5" y="11.5">336</text></g>
<g class="S B" transform="translate(1184.5,678)"><rect/><text x="11.5" y="11.5">322</text></g>
<g class="S B" transform="translate(1184.5,703.5)"><rect/><text x="11.5" y="11.5">326</text></g>
<g class="S Bw" transform="translate(1184.5,729.5)"><rect/><text x="11.5" y="11.5">330</text></g>
<g class="S Bw" transform="translate(1184.5,755)"><rect/><text x="11.5" y="11.5">334</text></g>

<g class="S B" transform="translate(877,994)"><rect/><text x="11.5" y="11.5">337</text></g>
<g class="S Bw" transform="translate(877,1020)"><rect/><text x="11.5" y="11.5">341</text></g>
<g class="S B" transform="translate(877,1045.5)"><rect/><text x="11.5" y="11.5">345</text></g>
<g class="S Bw" transform="translate(877,1071)"><rect/><text x="11.5" y="11.5">349</text></g>
<g class="S B" transform="translate(877,1097)"><rect/><text x="11.5" y="11.5">353</text></g>
<g class="S Bw" transform="translate(971,1008)"><rect/><text x="11.5" y="11.5">339</text></g>
<g class="S Bw" transform="translate(971,1034)"><rect/><text x="11.5" y="11.5">343</text></g>
<g class="S Bw" transform="translate(971,1059.5)"><rect/><text x="11.5" y="11.5">347</text></g>
<g class="S Bw" transform="translate(971,1085)"><rect/><text x="11.5" y="11.5">351</text></g>
<g class="S B" transform="translate(1261,994)"><rect/><text x="11.5" y="11.5">338</text></g>
<g class="S Bw" transform="translate(1261,1020)"><rect/><text x="11.5" y="11.5">342</text></g>
<g class="S B" transform="translate(1261,1045.5)"><rect/><text x="11.5" y="11.5">346</text></g>
<g class="S Bw" transform="translate(1261,1071)"><rect/><text x="11.5" y="11.5">350</text></g>
<g class="S B" transform="translate(1261,1097)"><rect/><text x="11.5" y="11.5">354</text></g>
<g class="S Bw" transform="translate(1166.5,1008)"><rect/><text x="11.5" y="11.5">340</text></g>
<g class="S Bw" transform="translate(1166.5,1034)"><rect/><text x="11.5" y="11.5">344</text></g>
<g class="S Bw" transform="translate(1166.5,1059.5)"><rect/><text x="11.5" y="11.5">348</text></g>
<g class="S Bw" transform="translate(1166.5,1085)"><rect/><text x="11.5" y="11.5">352</text></g>
</g>
</svg>
</body></html>
